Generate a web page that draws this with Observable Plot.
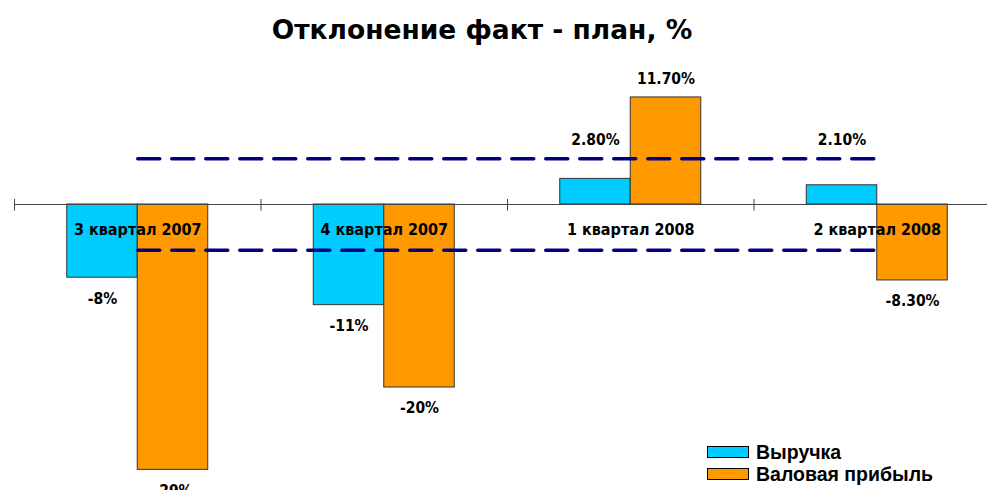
<!DOCTYPE html>
<html>
<head>
<meta charset="utf-8">
<script src="https://cdn.jsdelivr.net/npm/d3@7"></script>
<script src="https://cdn.jsdelivr.net/npm/@observablehq/plot@0.6"></script>
<style>
  html, body { margin: 0; padding: 0; background: #fff; overflow: hidden; width: 987px; height: 490px; }
  #title { width: 964px; height: 60px; line-height: 60px; text-align: center; font-family: "DejaVu Sans", sans-serif; font-weight: bold; font-size: 26.5px; color: #000; }
  #chart { position: relative; height: 430px; overflow: hidden; }
  #chart svg { max-width: none !important; display: block; }
  #legend { position: absolute; left: 707px; top: 441px; font-family: "Liberation Sans", Arial, sans-serif; font-weight: bold; font-size: 19.5px; color: #000; }
  .item { display: flex; align-items: center; height: 22px; }
  .sw { width: 40px; height: 10px; border: 1px solid #000; margin-right: 7px; }
</style>
</head>
<body>
<div id="title">Отклонение факт - план, %</div>
<div id="chart"></div>
<div id="legend"></div>
<script>
const quarters = ["3 квартал 2007", "4 квартал 2007", "1 квартал 2008", "2 квартал 2008"];
const series = ["Выручка", "Валовая прибыль"];
const revenue = [-8, -11, 2.8, 2.1];
const grossProfit = [-29, -20, 11.7, -8.3];
const revenueLabels = ["-8%", "-11%", "2.80%", "2.10%"];
const profitLabels = ["-29%", "-20%", "11.70%", "-8.30%"];
const colors = ["#00CCFF", "#FF9900"];
const thresholds = [5, -5];

const halfW = 0.286; // bar width as a fraction of one quarter's band
const rows = [];
quarters.forEach((q, i) => {
  rows.push({i, q, s: series[0], v: revenue[i], label: revenueLabels[i], x1: i - halfW, x2: i});
  rows.push({i, q, s: series[1], v: grossProfit[i], label: profitLabels[i], x1: i, x2: i + halfW});
});
const boundaries = d3.range(-0.5, quarters.length, 1);
const dashRows = thresholds.flatMap(t => [{x: 0, y: t}, {x: quarters.length - 1, y: t}]);
const vline = { draw(ctx, size) { const r = 6; ctx.moveTo(0, -r + 0.5); ctx.lineTo(0, r); } };
const upper = d3.max(thresholds);

const pxPerUnit = 9.15, zeroY = 144;
const labelFont = "'Liberation Sans Narrow', 'DejaVu Sans Condensed', sans-serif";
const chart = Plot.plot({
  width: 1000,
  height: 450,
  marginLeft: 14,
  marginRight: 0,
  marginTop: 0,
  marginBottom: 0,
  x: {type: "linear", domain: [-0.5, quarters.length - 0.5], axis: null},
  y: {domain: [-30, 15], range: [zeroY + 30 * pxPerUnit, zeroY - 15 * pxPerUnit], axis: null},
  color: {domain: series, range: colors},
  style: {fontFamily: labelFont, overflow: "visible", maxWidth: "none"},
  marks: [
    Plot.rectY(rows, {x1: "x1", x2: "x2", y: "v", fill: "s", stroke: "#333", strokeWidth: 1}),
    Plot.ruleY([0], {stroke: "#444", strokeWidth: 1}),
    Plot.dot(boundaries, {x: d => d, y: 0, symbol: vline, r: 6, stroke: "#444", strokeWidth: 1}),
    // positive labels that would collide with the dashed threshold sit just above it
    Plot.text(rows, {x: d => (d.x1 + d.x2) / 2, y: d => d.v < upper ? upper : d.v, text: "label", fontWeight: "bold", fontSize: 15.5, fill: "#000",
      filter: d => d.v >= 0, lineAnchor: "middle", dy: -18.5}),
    Plot.text(rows, {x: d => (d.x1 + d.x2) / 2, y: "v", text: "label", fontWeight: "bold", fontSize: 15.5, fill: "#000",
      filter: d => d.v < 0, lineAnchor: "middle", dy: 21}),
    Plot.line(dashRows, {x: "x", y: "y", z: "y", stroke: "#000080", strokeWidth: 3.5, strokeDasharray: "22,12"}),
    Plot.text(quarters, {x: (d, i) => i, y: 0, text: d => d, fontWeight: "bold", fontSize: 16, fill: "#000", dy: 25})
  ]
});
document.getElementById("chart").appendChild(chart);

const legend = document.getElementById("legend");
series.forEach((s, i) => {
  const item = document.createElement("div");
  item.className = "item";
  const sw = document.createElement("div");
  sw.className = "sw";
  sw.style.background = colors[i];
  item.appendChild(sw);
  item.appendChild(document.createTextNode(s));
  legend.appendChild(item);
});
</script>
</body>
</html>
